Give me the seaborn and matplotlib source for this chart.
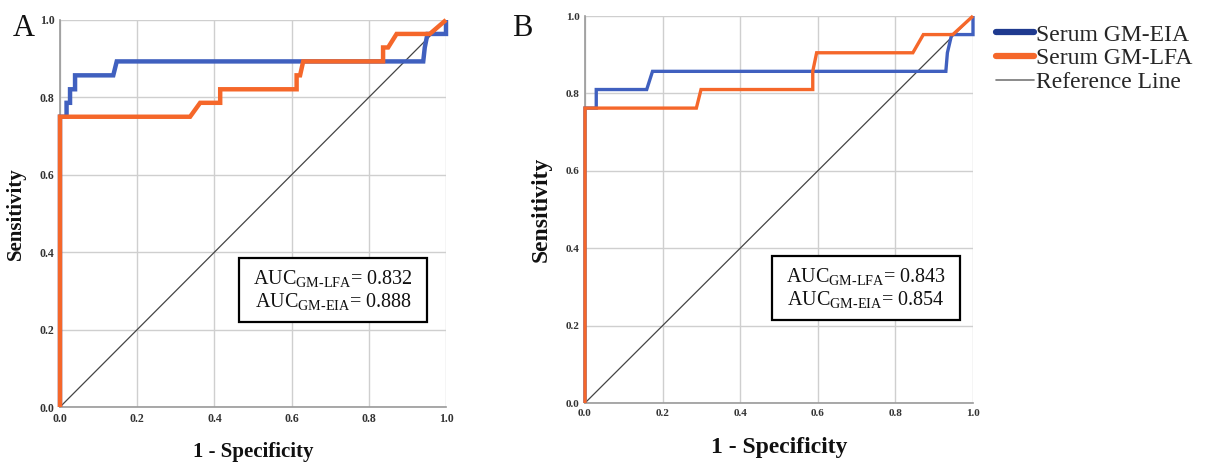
#! /usr/bin/python3
'''
ROC curves of serum GM-EIA and GM-LFA, two panels.
'''

import numpy as np
import pandas as pd
import seaborn as sns
import matplotlib.pyplot as plt
from matplotlib.lines import Line2D
from matplotlib.patches import Rectangle

# Panel A curves (1 - specificity, sensitivity)
a_eia_fpr = [0, 0, 0.017, 0.017, 0.026, 0.026, 0.039, 0.039, 0.138, 0.147, 0.941, 0.945, 0.952, 1.0, 1.0]
a_eia_tpr = [0, 0.75, 0.75, 0.786, 0.786, 0.821, 0.821, 0.857, 0.857, 0.893, 0.893, 0.929, 0.964, 0.964, 1.0]
a_lfa_fpr = [0, 0, 0.337, 0.363, 0.415, 0.415, 0.613, 0.613, 0.622, 0.630, 0.837, 0.837, 0.850, 0.872, 0.958, 1.0]
a_lfa_tpr = [0, 0.75, 0.75, 0.786, 0.786, 0.821, 0.821, 0.857, 0.857, 0.893, 0.893, 0.929, 0.929, 0.964, 0.964, 1.0]

# Panel B curves
b_eia_fpr = [0, 0, 0.029, 0.029, 0.159, 0.174, 0.930, 0.934, 0.945, 1.0, 1.0]
b_eia_tpr = [0, 0.762, 0.762, 0.810, 0.810, 0.857, 0.857, 0.905, 0.952, 0.952, 1.0]
b_lfa_fpr = [0, 0, 0.287, 0.299, 0.587, 0.587, 0.597, 0.845, 0.872, 0.948, 1.0]
b_lfa_tpr = [0, 0.762, 0.762, 0.810, 0.810, 0.857, 0.905, 0.905, 0.952, 0.952, 1.0]

ref_line = [0, 1]

auc_a = {'GM-LFA': '0.832', 'GM-EIA': '0.888'}
auc_b = {'GM-LFA': '0.843', 'GM-EIA': '0.854'}

ticks = [0.0, 0.2, 0.4, 0.6, 0.8, 1.0]
tick_labels = ['0.0', '0.2', '0.4', '0.6', '0.8', '1.0']

BLUE = '#4060bf'
ORANGE = '#f5672a'
NAVY = '#1f3a8f'
REF = '#444444'

sns.set_theme(style='white')
plt.rcParams['font.family'] = ['Liberation Serif', 'DejaVu Serif']
plt.rcParams['mathtext.fontset'] = 'custom'
plt.rcParams['mathtext.rm'] = 'Liberation Serif'
plt.rcParams['mathtext.it'] = 'Liberation Serif'
plt.rcParams['mathtext.bf'] = 'Liberation Serif:bold'

fig = plt.figure(figsize=(12.1, 4.65), dpi=100)
axA = fig.add_axes([60 / 1210, 58 / 465, 386 / 1210, 387 / 465])
axB = fig.add_axes([585 / 1210, 62 / 465, 388 / 1210, 387 / 465])


def drawPanel(ax, eia, lfa, auc, lw, tick_size, label_size, box):
    '''
    Draw one ROC panel with its reference line and AUC box.
    '''
    ax.grid(True, color='#cfcfcf', linewidth=1.0)
    ax.set_axisbelow(True)

    ref = pd.DataFrame({'x': ref_line, 'y': ref_line})
    sns.lineplot(data=ref, x='x', y='y', ax=ax, color=REF, linewidth=0.9,
                 estimator=None, sort=False)
    for (fpr, tpr), col in ((eia, BLUE), (lfa, ORANGE)):
        df = pd.DataFrame({'x': fpr, 'y': tpr})
        sns.lineplot(data=df, x='x', y='y', ax=ax, color=col, linewidth=lw,
                     estimator=None, sort=False, clip_on=False, zorder=3,
                     solid_joinstyle='miter', solid_capstyle='butt')

    ax.set_xlim(0, 1)
    ax.set_ylim(0, 1)
    ax.set_xticks(ticks)
    ax.set_yticks(ticks)
    ax.set_xticklabels(tick_labels, fontsize=tick_size, fontweight='bold', color='#333333')
    ax.set_yticklabels(tick_labels, fontsize=tick_size, fontweight='bold', color='#333333')
    ax.tick_params(length=0, pad=4)
    for side in ('top', 'right'):
        ax.spines[side].set_visible(False)
    for side in ('left', 'bottom'):
        ax.spines[side].set_color('#999999')
        ax.spines[side].set_linewidth(1.2)

    ax.set_xlabel('1 - Specificity', fontsize=label_size, fontweight='bold', color='#111111')
    ax.set_ylabel('Sensitivity', fontsize=label_size, fontweight='bold', color='#111111')
    ax.xaxis.set_label_coords(0.5, -0.116)
    ax.yaxis.set_label_coords(-0.114, 0.5)
    ax.xaxis.label.set_va('center')
    ax.yaxis.label.set_va('center')

    x0, y0, x1, y1 = box
    ax.add_patch(Rectangle((x0, y0), x1 - x0, y1 - y0, transform=ax.transAxes,
                           facecolor='white', edgecolor='black', linewidth=1.6,
                           zorder=5))
    txt = ('AUC$_{\\mathrm{GM\u2010LFA}}$= %s\nAUC$_{\\mathrm{GM\u2010EIA}}$= %s'
           % (auc['GM-LFA'], auc['GM-EIA']))
    ax.text((x0 + x1) / 2, (y0 + y1) / 2, txt, transform=ax.transAxes,
            ha='center', va='center', fontsize=14.5, color='#111111',
            linespacing=1.1, zorder=6)


drawPanel(axA, (a_eia_fpr, a_eia_tpr), (a_lfa_fpr, a_lfa_tpr), auc_a,
          3.2, 8.5, 15, (0.464, 0.22, 0.951, 0.385))
drawPanel(axB, (b_eia_fpr, b_eia_tpr), (b_lfa_fpr, b_lfa_tpr), auc_b,
          2.4, 8, 17, (0.482, 0.214, 0.966, 0.38))

fig.text(13 / 1210, 1 - 36 / 465, 'A', fontsize=22, color='#111111', va='baseline')
fig.text(512 / 1210, 1 - 36 / 465, 'B', fontsize=22, color='#111111', va='baseline')

handles = [Line2D([], [], color=NAVY, linewidth=4.5, solid_capstyle='round'),
           Line2D([], [], color=ORANGE, linewidth=4.5, solid_capstyle='round'),
           Line2D([], [], color='#777777', linewidth=1.2)]
fig.legend(handles, ['Serum GM-EIA', 'Serum GM-LFA', 'Reference Line'],
           loc='upper left', bbox_to_anchor=(996 / 1210, 1 - 24 / 465),
           frameon=False, fontsize=17, handlelength=1.6, handletextpad=0.1,
           labelspacing=0.1, borderaxespad=0, borderpad=0.0)

fig.savefig('out.png', dpi=100)
